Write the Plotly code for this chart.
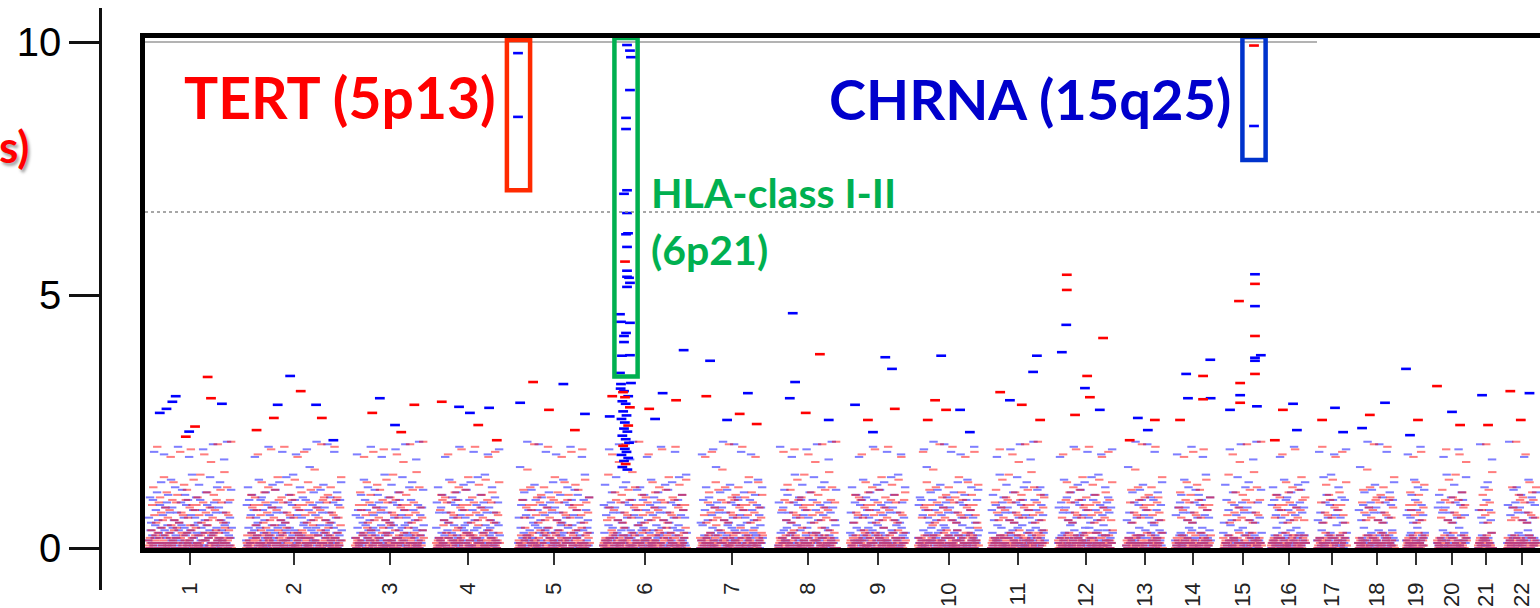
import plotly.graph_objects as go

W, H = 1540, 608

# ---------------- data ----------------
CHROMS = [str(i) for i in range(1, 23)]
# genomic axis layout (cumulative start and length of each chromosome, axis units)
CHR_START = [7.5, 252.5, 525, 727.5, 932.5, 1145, 1387.5, 1582.5, 1762.5, 1932.5, 2115,
             2282.5, 2452.5, 2575, 2695, 2815, 2930, 3032.5, 3152.5, 3230, 3332.5, 3405]
CHR_SIZE = [210, 240, 172.5, 160, 180, 210, 157.5, 147.5, 140, 152.5, 135,
            137.5, 92.5, 90, 97.5, 87.5, 75, 92.5, 47.5, 75, 37.5, 75]
X_RANGE = [0, 3487.5]
Y_RANGE = [0, 10.079]

# background SNPs, one string per chromosome, SNPs in genomic order (spaces ignored).
# each character is -log10(p) in steps of 0.05 along CODE ('0'=0.00, 'a'=0.50, 'A'=1.80)
CODE = "0123456789abcdefghijklmnopqrstuvwxyzABCDEFGHIJKLMNOPQRSTUVWXYZ"
STEP = 0.05
BLUE_BG = [
    "3c0k7a25j1C4 9f4m0b62h8q1 0d5B7g24i9l0 1e6r3g82b0o5 4e1E7a03i9n2 0c8l5h16j2A3 "
    "7d0t2f49c1k6 2a5p0j38f6D1 1b3m9h04d7s2 5g0F6i21e8o3 0g4q1b73e2z9 6a2G0i51c4n8",
    "3h1o8j02d6l4 0f7A4c95a1r2 8j2k0f36b4m1 1h0E5d72g9p3 4i6n1e08g2q5 2b9C3e10a7s6 "
    "0i3l8c41h5t0 7j1B2d63f0o4 5c0k9a14j2D8 1f4w0b72h3m6 3d8G1g50i9n2 0e2p6g47b1F5 "
    "9e1k3a02i8C4 2c6m0h15j3q7",
    "4d0B8f21c6l3 1a5r2j90f4o7 0b3E6h18d2n5 7g2l0i43e9A1 2g0t5b16e3k8 6a1p3i09c2D4 "
    "0h4m7j21d8s5 3f9F1c60a5o2 5j0q2f84b1z7 1h3G0d52g7n9",
    "8i0o4e13g6l2 2b5A1e07a4r0 0i6k3c92h1m5 4j1E0d28f3p7 9c2n6a01j5q3 1f0C7b43h8s2 "
    "3d4l0g62i1t9 0e7B2g58b4o1 6e1k3a02i9D5",
    "2c0w8h14j6m3 0d5G1f37c2n4 4a2p9j01f8F6 1b3k0h52d7C0 8g0m4i26e1q3 0g2B1b73e5l9 "
    "5a1r6i02c4o8 3h0E2j91d6n4 0f4l7c15a2A0 7j2t0f38b1k6",
    "1h6p3d02g9D4 0i3m8e41g5s2 6b0F1e27a3o5 2i8q0c54h1z7 4j1G6d03f2n9 0c5o2a71j8l3 "
    "3f0A4b16h0r2 1d7k0g39i4m5 5e2E8g01b6p0 0e4n1a62i3q8 2c1C5h07j9s1 7d0l3f42c1t6",
    "0a3B9j15f2o4 4b0k2h61d8D3 1g5w0i37e0m2 6g2G4b01e5n9 0a1p3i82c4F7 3h6k0j14d9C2 "
    "2f0m7c51a3q0 0j4B1f26b8l5 5h1r3d09g2o4",
    "1i0E6e42g7n3 3b8l0e15a2A6 0i2t4c91h3k0 7j1p0d32f5D8 2c4m1a06j0s3 0f6F2b53h1o4 "
    "4d0q8g12i7z5 1e3G0g24b9n0",
    "6e1o5a03i2l8 0c2A3h71j4r5 3d0k1f48c6m2 1a7E2j05f3p9 0b4n6h12d8q3 5g0C3i20e1s7 "
    "2g6l0b49e3t1 0a1B8i52c4o6",
    "4h2k0j13d7D0 1f0w5c62a3m8 3j5G1f04b2n6 0h2p7d31g9F4 8i1k0e25g4C1 2b0m6e13a7q5 "
    "0i3B4c91h2l0 5j1r2d08f6o3 1c4E0a32j5n7",
    "0f6l1b24h3A9 3d0t5g81i2k4 2e1p0g46b0D5 0e7m3a12i5s8 4c2F1h09j3o1 1d0q6f23c7z4 "
    "5a3G0j18f2n0 0b1o4h72d6l3",
    "2g4A0i51e3r6 6g0k2b14e9m0 1a3E7i02c5p4 0h5n1j36d2q8 3f1C0c82a4s1 4j0l2f61b7t3 "
    "0h2B5d19g3o5 7i1k3e04g2D6",
    "1b0w4e26a3m0 0i3G1c52h8n4 5j2p0d17f4F2 2c0k6a31j9C5 0f4m2b73h1q6",
    "3d1B0g25i6l1 1e5r3g02b4o8 0e2E7a14i3n0 4c0l1h62j8A5 2d3t0f41c7k3",
    "6a0p2j15f3D9 0b1m4h32d0s7 3g2F0i81e5o2 1g0q6b24e3z0 5a4G1i03c2n6",
    "0h2o3j51d8l4 2f1A0c46a3r1 4j0k5f21b7m0 1h3E2d08g4p5 0i6n1e32g5q2",
    "3b0C4e17a2s0 1i2l0c53h6t4 0j4B2d19f3o1 5c1k3a02j4D6",
    "2f0w1b43h8m2 0d3G5g21i6n0 4e1p0g32b7F5 1e2k6a04i3C1 0c5m2h17j4q3",
    "3d0B1f25c6l0 1a4r0j32f8o2 0b2E3h51d4n6",
    "2g1l0i43e7A1 0g3t6b12e5k0 4a0p2i01c3D8 1h5m0j36d2s4",
    "0f2F1c53a4o1 3j1q4f02b6z0",
    "2h0G3d15g4n2 0i4o1e62g3l5 1b2A0e43a7r0 5i0k2c14h2m3",
]
RED_BG = [
    "310420 7h1o0d35a2E6 0i4k2e81b3s0 5g0m1c26f4A9 1j3q7b02i8l4 2a0C4e61d5p3 0j6n2c13g9D7 "
    "4h1r0f58h2k1 1d2t5a03i0B6 3e0m9b41g6y2 0c5l1f27j3F4 6b2n0i31a4u8 2e0o3d74j1G0",
    "025103 0c1l6g23h5k9 4f3B0h12d7q5 1a0m2i86e4o3 3b5D1g02c9n0 0f2s7j41b3k6 5i1E0a38e2p4 "
    "2d0l4j10c6r1 0g3A1h52f4m7 6h0C2d43a1q5 1i4n0e29b5v0 3g2o5c01f7F2 0j1k3b64i2l8 "
    "2a5o0e13d4E1 4j0k6c21g9s3",
    "140230 1h3m2f05h6A0 0d2q8a41i3l7 5e1C0b32g0p4 2c4n1f06j8D1 0b6r3i52a1k9 3e0t1d27j4B2 "
    "1c5m0g43h2y6 0f2l4h18d0F3 4a1n2i60e5u1 2b0o5g31c7G4",
    "201314 0f3l1j29b4k0 6i1B4a02e3q5 1d0m2j73c8o2 3g4D0h15f0n6 0h2s6d31a5k4 5i0E1e42b9p1 "
    "2g3l0c56f1r3 0j1A7b24i3m0 4a2C1e03d6q2",
    "031205 1j0n3c82g4v5 0h5o2f16h3F1 3d1k0a42i7l0 2e0o6b15g3E8 0c4k1f30j2s6 5b2m0i71a4A3 "
    "1e0q3d24j9l0 0c6C1g52h3p7 4f1n2h03d8D1 2a0r5i16e4k2",
    "120341 0b3t1g42c7B5 6f0m2j13b0y4 1i2l0a58e3F1 3d0n4j21c6u0 0g5o1h32f9G2 2h1l6d04a3k7 "
    "4i0B2e15b1q3 0g3m5c21f7o6 1j2D0b43i0n8 5a0s3e16d2k4 0j4E1c20g5p1 3h1l2f64h8r0",
    "403120 0d2A4a13i5m2 6e0C1b32g4q9 1c5n0f27j0v3 0b3o2i41a6F1 4e1k0d52j3l6 2c0o3g18h4E0 "
    "0f6k1h24d5s3 3a2m0i71e0A2 1b0q4g32c6l5",
    "012430 0f4C2j15b3p0 2i1n6a03e7D4 5d0r1j24c1k8 0g3t2h61f4B2 1h2m0d35a0y6 3i0l4e12b8F1 "
    "0g5n1c43f2u7 4j1o2b06i3G0",
    "230104 1a0l5e23d4k2 0j2B3c17g6q1 5h1m0f42h3o0 2d0D6a10i5n4 0e3s1b28g4k1 3c2E0f51j1p6 "
    "1b0l4i32a7r2 0e4A1d06j2m3",
    "104203 4c1C2g50h3q0 1f0n3h24d9v5 0a2o5i13e0F2 3b1k0g62c4l7 0f5o2j14b3E1 2i0k1a37e5s0 "
    "1d3m0j42c2A6 0g1q6h25f3l4 5h0C2d13a8p1",
    "021340 0i2n3e01b4D5 2g4r1c50f3k2 1j0t4b26i1B0 3a1m0e32d5y7 0j5l2c14g0F3 4h0n1f63h2u1 "
    "1d2o0a25i4G6 0e3l5b12g7k2",
    "302014 2c1B0f43j1q5 0b6m2i31a0o4 5e0D1d24j3n0 1c3s0g52h6k2 0f2E4h13d0p6 3a0l1i26e4r1 "
    "0b4A2g01c5m3 2f1C5j30b2q7",
    "130240 0i3n1a42e1v5 4d0o2j15c3F0 1g2k0h36f0l2 0h5o3d12a4E1 3i1k0e24b6s0",
    "021403 0g2m1c53f0A4 2j0q4b12i3l6 1a3C0e25d1p0 0j1n2c63g4D2 4h0r1f31h2k5",
    "401230 0d2t5a03i1B4 3e1m0b42g6y0 1c0l2f30j5F2 0b4n1i26a1u3 2e1o3d04j2G1",
    "120304 0c3l1g52h0k4 4f0B2h13d6q1 1a2m0i30e4o5 0b5D3g12c1n0 2f1s0j45b3k2",
    "031042 0i3E2a10e6p4 3d0l1j52c2r0 1g4A0h23f0m5 0h2C6d14a3q1",
    "204130 2i0n1e31b5v0 0g1o4c25f2F3 4j3k0b12i0l6 1a0o2e53d4E2 0j2k1c36g1s0",
    "013204 3h1m0f24h5A1 0d2q3a10i6l2 2e0C1b43g1p5",
    "320140 1c3n0f25j2D0 0b1r4i31a0k6 4e0t2d12j3B1 0c2m1g50h4y3",
    "102340 2f1l0h34d0F5 0a3n2i11e6u0",
    "041203 1b0o3g25c1G4 0f2l1j43b2k0 3i1B0a20e5q1 0d4m2j13c1o2",
]

# stronger signals per chromosome: relative position, -log10(p), cohort (b=blue, r=red)
HIT_FRAC = [
    [.14, .22, .29, .33, .45, .49, .56, .71, .75, .88],
    [.46, .57, .33, .29, .73, .79, .91, .11],
    [.36, .25, .86, .58, .67],
    [.09, .36, .53, .83, .66, .95],
    [.0, .0, .21, .63, .03, .43, .93, .79],
    [.286, .321, .333, .321, .274, .274, .286, .25, .286, .298, .274, .286, .262, .286, .286,
     .31, .321, .286, .202, .214, .321, .274, .25, .25, .226, .321, .202, .214, .333, .238, .262,
     .21, .25, .30, .23, .27, .32, .24, .28, .22, .26, .30, .25, .29, .23, .27, .31, .24, .26,
     .28, .22, .30, .25, .27, .23, .29,
     .96, .71, .11, .08, .87, .55, .62],
    [.16, .1, .76, .63, .43, .9],
    [.25, .71, .29, .2, .47, .86],
    [.63, .75, .8, .09, .32, .41],
    [.38, .28, .46, .69, .16, .85],
    [.17, .85, .78, .57, .35, .91],
    [.16, .16, .15, .07, .82, .53, .49, .58, .76, .31],
    [.32, .78, .59, .1],
    [.31, .98, .78, .78, .36, .99, .14],
    [.795, .795, .82, .82, .41, .82, .82, .97, .82, .82, .82, .44, .44, .44, .87, .18],
    [.63, .34, .74, .11],
    [.6, .17, .87],
    [.73, .32, .11],
    [.0, .63, .21],
    [.0, .5, .77],
    [.27, .67],
    [.11, .75, .46],
]
HIT_LOGP = [
    [2.67, 2.75, 2.89, 3.0, 2.2, 2.3, 2.4, 3.38, 2.96, 2.85],
    [3.4, 3.1, 2.83, 2.57, 2.83, 2.57, 2.13, 2.33],
    [2.96, 2.67, 2.83, 2.43, 2.29],
    [2.89, 2.79, 2.67, 2.77, 2.43, 2.13],
    [9.78, 8.52, 3.28, 3.24, 2.87, 2.73, 2.65, 2.33],
    [9.94, 9.83, 9.70, 9.05, 8.50, 8.28, 7.07, 7.0, 6.62, 6.22, 6.2, 5.95, 5.66, 5.48, 5.36,
     5.34, 5.24, 5.16, 4.62, 4.47, 4.45, 4.25, 4.19, 4.07, 3.8, 3.81, 3.46, 3.24, 3.26, 3.08, 2.98,
     3.15, 3.1, 3.0, 2.9, 2.85, 2.78, 2.7, 2.62, 2.55, 2.48, 2.42, 2.36, 2.3, 2.22, 2.15, 2.08,
     2.02, 1.96, 1.9, 1.84, 1.78, 1.72, 1.66, 1.6, 1.55,
     3.91, 3.06, 3.0, 2.6, 2.92, 2.75, 2.55],
    [3.7, 3.0, 3.06, 2.65, 2.53, 2.45],
    [4.64, 3.83, 3.28, 2.96, 2.67, 2.53],
    [3.77, 3.54, 2.75, 2.83, 2.53, 2.29],
    [3.8, 2.92, 2.73, 2.73, 2.53, 2.29],
    [3.08, 3.8, 3.48, 2.83, 2.92, 2.53],
    [5.4, 5.1, 4.41, 3.87, 4.15, 3.4, 3.16, 2.98, 2.73, 2.63],
    [2.57, 2.53, 2.33, 2.13],
    [3.44, 3.72, 3.4, 2.94, 2.96, 2.96, 2.53],
    [9.93, 8.34, 5.41, 5.22, 4.88, 4.78, 4.19, 3.81, 3.76, 3.7, 3.44, 3.26, 3.02, 2.87, 2.8, 2.73],
    [2.85, 2.73, 2.33, 2.13],
    [2.77, 2.53, 2.29],
    [2.87, 2.63, 2.37],
    [3.54, 2.53, 2.23],
    [3.2, 2.69, 2.43],
    [3.02, 2.43],
    [3.1, 3.06, 2.53],
]
HIT_SET = [
    "bbbbrbrrrb",
    "brbrbrbr",
    "brrbr",
    "rbbbrr",
    "bbrbbrbr",
    "bbbbbbbbbbbbrbbbbbbbbbbbbbbbbrr" "bbbbbrbbbbrbbbbbrbbbbbrbb" "bbrbrrb",
    "brbrbr",
    "brbbrb",
    "bbrbrb",
    "brrbrb",
    "rbbrbr",
    "rrbbrrbrbr",
    "brbr",
    "bbrrbbr",
    "rbbrrbrbbbrrbrbb",
    "brbr",
    "brb",
    "brb",
    "brb",
    "rbr",
    "br",
    "rbr",
]

# highlighted loci (boxes): chromosome, relative position, -log10(p) span, colour
BOX_CHR = [5, 6, 15]
BOX_FRAC = [0.007, 0.274, 0.795]
BOX_LO = [7.07, 3.39, 7.67]
BOX_HI = [10.04, 10.08, 10.10]
BOX_COLOR = ["#FF2A00", "#00B050", "#0033CC"]

THRESH = 6.64
TOP_LINE = 10
Y_TICKS = [0, 5, 10]

BLUE = "#0000FF"
RED = "#FF0000"


# ---------------- build ----------------
def decode(s):
    return [CODE.index(ch) * STEP for ch in s if ch != " "]


def bg_xy(strings):
    xs, ys = [], []
    for c, s in enumerate(strings):
        vals = decode(s)
        n = len(vals)
        for i, v in enumerate(vals):
            xs.append(CHR_START[c] + (i + 0.5) / n * CHR_SIZE[c])
            ys.append(v)
    return xs, ys


hits = {"b": ([], []), "r": ([], [])}
for c in range(22):
    for f, v, s in zip(HIT_FRAC[c], HIT_LOGP[c], HIT_SET[c]):
        hits[s][0].append(CHR_START[c] + f * CHR_SIZE[c])
        hits[s][1].append(v)

tick_pos = [CHR_START[c] + CHR_SIZE[c] / 2 for c in range(22)]

fig = go.Figure()
bx, by = bg_xy(BLUE_BG)
rx, ry = bg_xy(RED_BG)
fig.add_trace(go.Scatter(x=bx, y=by, mode="markers", opacity=0.5,
                         marker=dict(symbol="line-ew", size=6, line=dict(width=2, color=BLUE)),
                         hoverinfo="skip"))
fig.add_trace(go.Scatter(x=rx, y=ry, mode="markers", opacity=0.5,
                         marker=dict(symbol="line-ew", size=6, line=dict(width=2, color=RED)),
                         hoverinfo="skip"))
fig.add_trace(go.Scatter(x=hits["b"][0], y=hits["b"][1], mode="markers",
                         marker=dict(symbol="line-ew", size=7, line=dict(width=2.6, color=BLUE))))
fig.add_trace(go.Scatter(x=hits["r"][0], y=hits["r"][1], mode="markers",
                         marker=dict(symbol="line-ew", size=7, line=dict(width=2.6, color=RED))))
# carrier for the outer left axis
fig.add_trace(go.Scatter(x=[X_RANGE[0]], y=[0], xaxis="x", yaxis="y2", mode="markers",
                         marker=dict(opacity=0), hoverinfo="skip"))


def px(x):
    return x / W


def py(y):
    return 1 - y / H


shapes = []
shapes.append(dict(type="line", xref="x domain", yref="y", x0=0, x1=1, y0=THRESH, y1=THRESH,
                   line=dict(color="#8a8a8a", width=1.5, dash="dot")))
shapes.append(dict(type="line", xref="x", yref="y", x0=X_RANGE[0], x1=CHR_START[16],
                   y0=TOP_LINE, y1=TOP_LINE, line=dict(color="#9a9a9a", width=1.5)))
for c, f, lo, hi, col in zip(BOX_CHR, BOX_FRAC, BOX_LO, BOX_HI, BOX_COLOR):
    xc = CHR_START[c - 1] + f * CHR_SIZE[c - 1]
    shapes.append(dict(type="rect", xref="x", yref="y", x0=xc - 29, x1=xc + 29, y0=lo, y1=hi,
                       line=dict(color=col, width=4.5)))

annotations = [
    dict(text="TERT (5p13)", x=px(498), y=py(97), xanchor="right", yanchor="middle",
         font=dict(family="Lato", size=57, weight="bold", color="#FF0000")),
    dict(text="CHRNA (15q25)", x=px(1233), y=py(99), xanchor="right", yanchor="middle",
         font=dict(family="Lato", size=56, weight="bold", color="#0000CC")),
    dict(text="HLA-class I-II", x=px(649), y=py(193), xanchor="left", yanchor="middle",
         font=dict(family="Lato", size=41, weight="bold", color="#00B050")),
    dict(text="(6p21)", x=px(649), y=py(249), xanchor="left", yanchor="middle",
         font=dict(family="Lato", size=41, weight="bold", color="#00B050")),
    dict(text="s)", x=px(31), y=py(146), xanchor="right", yanchor="middle",
         font=dict(family="Lato", size=44, weight="bold", color="#FF0000",
                   shadow="2px 3px 3px rgba(0,0,0,0.35)")),
]
for a in annotations:
    a.update(xref="paper", yref="paper", showarrow=False)

fig.update_layout(
    template="none",
    width=W, height=H,
    margin=dict(l=0, r=0, t=0, b=0),
    paper_bgcolor="white",
    plot_bgcolor="rgba(0,0,0,0)",
    showlegend=False,
    xaxis=dict(domain=[px(145), 1], range=X_RANGE, anchor="y",
               showline=True, linewidth=4.5, linecolor="black", mirror=True,
               showgrid=False, zeroline=False,
               ticks="outside", ticklen=12, tickwidth=2, tickcolor="#333",
               tickvals=tick_pos, ticktext=CHROMS, tickangle=-90,
               tickfont=dict(family="Liberation Sans", size=22, color="#222"),
               ticklabelstandoff=9, automargin=False),
    yaxis=dict(domain=[py(548), py(38)], range=Y_RANGE, anchor="x",
               showline=True, linewidth=4.5, linecolor="black", mirror=False,
               showgrid=False, zeroline=False, showticklabels=False, ticks="",
               automargin=False),
    yaxis2=dict(domain=[py(590), py(8)], range=[-0.830, 10.672], anchor="free",
                position=px(100), side="left",
                showline=True, linewidth=2.5, linecolor="#111",
                ticks="outside", ticklen=30, tickwidth=2.5, tickcolor="#111",
                tickvals=Y_TICKS, ticktext=[str(t) for t in Y_TICKS],
                tickfont=dict(family="Liberation Sans", size=40, color="black"),
                showgrid=False, zeroline=False, automargin=False),
    shapes=shapes,
    annotations=annotations,
)

fig.write_html("out.html", config={"displayModeBar": False},
               post_script="document.body.style.margin='0';document.body.style.overflow='hidden';")
